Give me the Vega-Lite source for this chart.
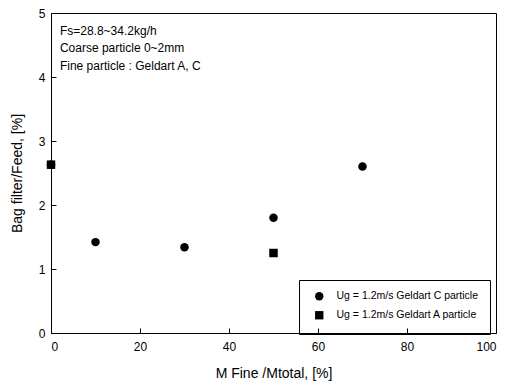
{
  "$schema": "https://vega.github.io/schema/vega-lite/v6.json",
  "width": 445,
  "height": 320,
  "autosize": {"type": "none"},
  "padding": {"left": 51, "top": 13, "right": 16, "bottom": 52},
  "background": "white",
  "config": {
    "view": {"stroke": "black", "strokeWidth": 1},
    "font": "Liberation Sans",
    "axis": {"grid": false, "domain": false, "ticks": true, "zindex": 1, "tickColor": "black", "tickWidth": 1, "labelColor": "black", "titleColor": "black", "labelFont": "Liberation Sans", "titleFont": "Liberation Sans", "labelFontSize": 12, "titleFontSize": 14, "titleFontWeight": "normal"}
  },
  "datasets": {
    "pts": [
      {"mfine": 0, "bag": 2.63, "series": "Ug = 1.2m/s Geldart A particle"},
      {"mfine": 50, "bag": 1.25, "series": "Ug = 1.2m/s Geldart A particle"},
      {"mfine": 0, "bag": 2.63, "series": "Ug = 1.2m/s Geldart C particle"},
      {"mfine": 10, "bag": 1.42, "series": "Ug = 1.2m/s Geldart C particle"},
      {"mfine": 30, "bag": 1.34, "series": "Ug = 1.2m/s Geldart C particle"},
      {"mfine": 50, "bag": 1.8, "series": "Ug = 1.2m/s Geldart C particle"},
      {"mfine": 70, "bag": 2.6, "series": "Ug = 1.2m/s Geldart C particle"}
    ],
    "notes": [
      {"x": 2, "y": 4.72, "label": "Fs=28.8~34.2kg/h"},
      {"x": 2, "y": 4.45, "label": "Coarse particle 0~2mm"},
      {"x": 2, "y": 4.17, "label": "Fine particle : Geldart A, C"}
    ]
  },
  "layer": [
    {
      "data": {"name": "pts"},
      "mark": {"type": "point", "filled": true, "opacity": 1, "color": "black", "size": 72},
      "encoding": {
        "x": {"field": "mfine", "type": "quantitative", "scale": {"domain": [0, 100], "nice": false},
          "axis": {"values": [0, 20, 40, 60, 80, 100], "format": "d", "offset": -5, "tickSize": 5, "labelPadding": 8, "title": "M Fine /Mtotal, [%]", "titlePadding": 14}},
        "y": {"field": "bag", "type": "quantitative", "scale": {"domain": [0, 5], "nice": false},
          "axis": {"values": [0, 1, 2, 3, 4, 5], "format": "d", "offset": -5, "tickSize": 5, "labelPadding": 6, "title": "Bag filter/Feed, [%]", "titlePadding": 14}},
        "shape": {"field": "series", "type": "nominal",
          "scale": {"domain": ["Ug = 1.2m/s Geldart C particle", "Ug = 1.2m/s Geldart A particle"], "range": ["circle", "square"]},
          "legend": {"title": null, "orient": "none", "legendX": 248, "legendY": 267, "strokeColor": "black", "padding": 11, "symbolOffset": 4, "labelFontSize": 10.5, "labelColor": "black", "symbolFillColor": "black", "symbolStrokeColor": "black", "symbolSize": 70, "rowPadding": 4, "labelOffset": 12, "labelLimit": 300}}
      }
    },
    {
      "data": {"name": "notes"},
      "mark": {"type": "text", "align": "left", "baseline": "middle", "fontSize": 12, "color": "black"},
      "encoding": {
        "x": {"field": "x", "type": "quantitative"},
        "y": {"field": "y", "type": "quantitative"},
        "text": {"field": "label"}
      }
    }
  ]
}
